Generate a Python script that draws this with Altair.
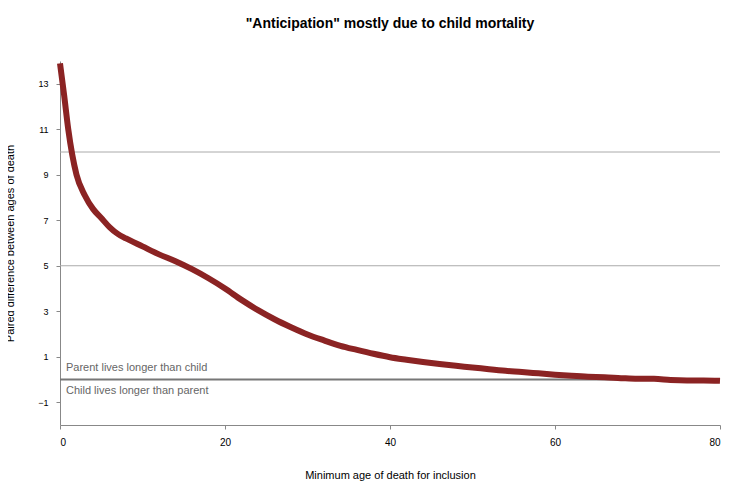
import altair as alt
import pandas as pd

ages = [0, 0.5, 1, 2, 3, 4, 5, 6, 7, 8, 10, 12, 14, 16, 18, 20, 22, 24, 26, 28,
        30, 32, 34, 36, 38, 40, 42, 44, 46, 48, 50, 52, 54, 56, 58, 60, 62, 64,
        66, 68, 70, 72, 74, 76, 78, 80]
diffs = [13.9, 12.5, 11.0, 9.0, 8.1, 7.5, 7.1, 6.7, 6.4, 6.2, 5.85, 5.5, 5.2,
         4.85, 4.45, 4.0, 3.5, 3.05, 2.65, 2.3, 1.98, 1.72, 1.48, 1.3, 1.13,
         0.98, 0.87, 0.77, 0.68, 0.6, 0.53, 0.45, 0.38, 0.33, 0.27, 0.21, 0.16,
         0.12, 0.1, 0.06, 0.03, 0.03, -0.02, -0.04, -0.04, -0.06]
grid_vals = [5, 10]
y_ticks = list(range(-1, 14))
x_ticks = [0, 20, 40, 60, 80]
labels = ["Parent lives longer than child", "Child lives longer than parent"]
label_y = [0.5, -0.5]

FONT = "Liberation Sans"
df = pd.DataFrame({"age": ages, "diff": diffs})
xs = alt.Scale(domain=[0, 80], nice=False)
ys = alt.Scale(domain=[-2, 14], nice=False, zero=False)

grid = alt.Chart(pd.DataFrame({"y": grid_vals})).mark_rule(
    color="#aaaaaa", strokeWidth=1
).encode(y=alt.Y("y:Q", scale=ys), x=alt.value(0), x2=alt.value(660))

zero = alt.Chart(pd.DataFrame({"y": [0]})).mark_rule(
    color="#777777", strokeWidth=2
).encode(y=alt.Y("y:Q", scale=ys), x=alt.value(0), x2=alt.value(660))

txt = alt.Chart(pd.DataFrame({"t": labels, "y": label_y})).mark_text(
    align="left", baseline="middle", dx=6, color="#666666", fontSize=11, font=FONT
).encode(y=alt.Y("y:Q", scale=ys), x=alt.value(0), text="t:N")

line = alt.Chart(df).mark_line(
    color="#8b2323", strokeWidth=6, interpolate="monotone"
).encode(
    x=alt.X("age:Q", scale=xs, title="Minimum age of death for inclusion",
            axis=alt.Axis(values=x_ticks, grid=False, titlePadding=22,
                          labelPadding=8)),
    y=alt.Y("diff:Q", scale=ys, title="Paired difference between ages of death",
            axis=alt.Axis(values=y_ticks, grid=False, titlePadding=22,
                          labelOverlap=False, labelFontSize=9, labelPadding=8)),
)

chart = alt.layer(grid, zero, txt, line).properties(
    width=660, height=364,
    title=alt.TitleParams('"Anticipation" mostly due to child mortality',
                          fontSize=14, font=FONT, fontWeight="bold", offset=20),
    autosize=alt.AutoSizeParams(type="none"),
    padding={"left": 52, "top": 53, "right": 20, "bottom": 70},
).configure_axis(
    labelFont=FONT, titleFont=FONT, labelFontSize=10, titleFontSize=11,
    titleFontWeight="normal", domainColor="#888888", tickColor="#888888",
    labelColor="#000000", tickSize=4,
).configure_view(stroke=None)

chart.save("out.html", embed_options={"renderer": "svg", "actions": False})
